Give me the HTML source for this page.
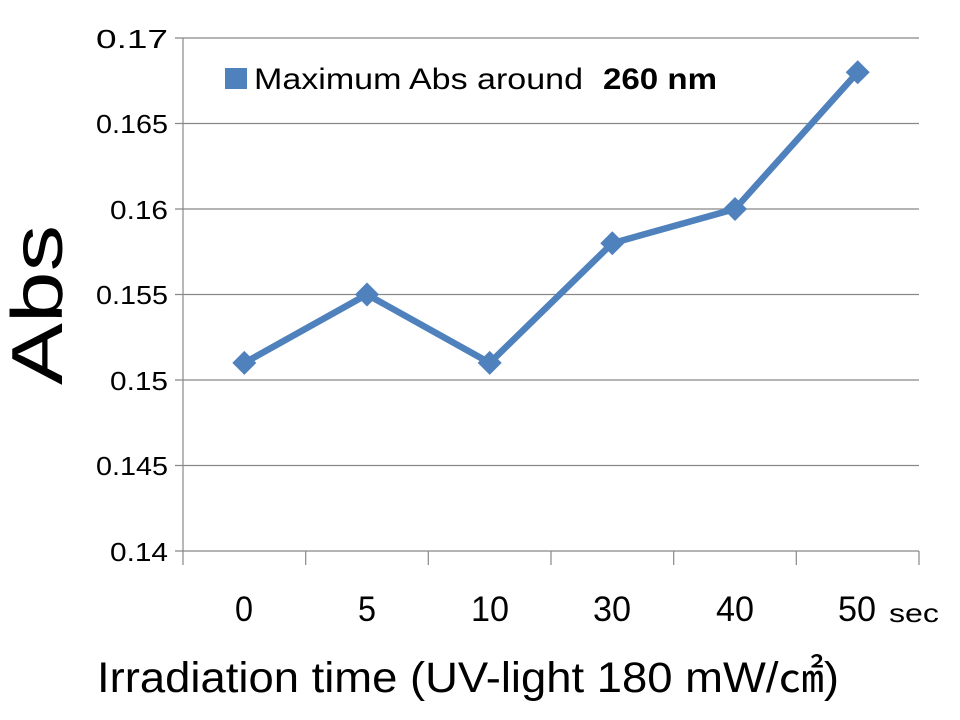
<!DOCTYPE html>
<html><head><meta charset="utf-8"><style>html,body{margin:0;padding:0;background:#fff}svg{display:block}</style></head>
<body>
<svg width="960" height="720" xmlns="http://www.w3.org/2000/svg" font-family="'Liberation Sans','Noto Sans CJK JP',sans-serif">
<g stroke="#888" stroke-width="1.2">
<line x1="175" y1="38" x2="919" y2="38"/>
<line x1="175" y1="123.5" x2="919" y2="123.5"/>
<line x1="175" y1="209" x2="919" y2="209"/>
<line x1="175" y1="294.5" x2="919" y2="294.5"/>
<line x1="175" y1="380" x2="919" y2="380"/>
<line x1="175" y1="465.5" x2="919" y2="465.5"/>
<line x1="175" y1="551" x2="919" y2="551"/>
<line x1="183" y1="38" x2="183" y2="565"/>
<line x1="305.7" y1="551" x2="305.7" y2="565"/>
<line x1="428.3" y1="551" x2="428.3" y2="565"/>
<line x1="551" y1="551" x2="551" y2="565"/>
<line x1="673.7" y1="551" x2="673.7" y2="565"/>
<line x1="796.3" y1="551" x2="796.3" y2="565"/>
<line x1="919" y1="551" x2="919" y2="565"/>
</g>
<g font-size="26" text-anchor="end" fill="#000">
<text x="168" y="48" textLength="72" lengthAdjust="spacingAndGlyphs">0.17</text>
<text x="168" y="133" textLength="72" lengthAdjust="spacingAndGlyphs">0.165</text>
<text x="168" y="219" textLength="58" lengthAdjust="spacingAndGlyphs">0.16</text>
<text x="168" y="304" textLength="72" lengthAdjust="spacingAndGlyphs">0.155</text>
<text x="168" y="390" textLength="58" lengthAdjust="spacingAndGlyphs">0.15</text>
<text x="168" y="475" textLength="72" lengthAdjust="spacingAndGlyphs">0.145</text>
<text x="168" y="561" textLength="58" lengthAdjust="spacingAndGlyphs">0.14</text>
</g>
<g font-size="35" text-anchor="middle" fill="#000">
<text x="244" y="621" textLength="18" lengthAdjust="spacingAndGlyphs">0</text>
<text x="367" y="621" textLength="18" lengthAdjust="spacingAndGlyphs">5</text>
<text x="490" y="621" textLength="38" lengthAdjust="spacingAndGlyphs">10</text>
<text x="612" y="621" textLength="38" lengthAdjust="spacingAndGlyphs">30</text>
<text x="735" y="621" textLength="38" lengthAdjust="spacingAndGlyphs">40</text>
<text x="857" y="621" textLength="38" lengthAdjust="spacingAndGlyphs">50</text>
</g>
<text x="889" y="622" font-size="26" fill="#000" textLength="50" lengthAdjust="spacingAndGlyphs">sec</text>
<text x="97" y="692" font-size="43" fill="#000" textLength="742" lengthAdjust="spacingAndGlyphs">Irradiation time (UV-light 180 mW/㎠)</text>
<text transform="translate(62,305) rotate(-90)" font-size="72" text-anchor="middle" fill="#000" textLength="160" lengthAdjust="spacingAndGlyphs">Abs</text>
<rect x="225" y="68" width="22" height="21" fill="#4f81bd"/>
<text x="254" y="89" font-size="30" fill="#000" textLength="329" lengthAdjust="spacingAndGlyphs">Maximum Abs around</text>
<text x="603" y="89" font-size="30" font-weight="bold" fill="#000" textLength="114" lengthAdjust="spacingAndGlyphs">260 nm</text>
<polyline points="244.3,362.9 367,294.5 489.7,362.9 612.3,243.2 735,209 857.7,72.2" fill="none" stroke="#4f81bd" stroke-width="6.5" stroke-linejoin="round"/>
<g fill="#4f81bd">
<path d="M244.3,350.9 l12,12 l-12,12 l-12,-12z"/>
<path d="M367,282.5 l12,12 l-12,12 l-12,-12z"/>
<path d="M489.7,350.9 l12,12 l-12,12 l-12,-12z"/>
<path d="M612.3,231.2 l12,12 l-12,12 l-12,-12z"/>
<path d="M735,197 l12,12 l-12,12 l-12,-12z"/>
<path d="M857.7,60.2 l12,12 l-12,12 l-12,-12z"/>
</g>
</svg>
</body></html>
